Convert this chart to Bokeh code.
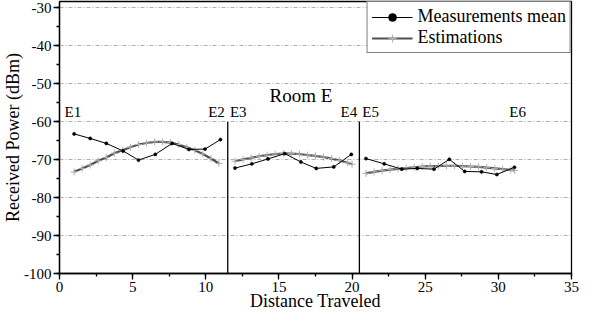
from bokeh.plotting import figure
from bokeh.models import (ColumnDataSource, Legend, LegendItem, SingleIntervalTicker, Range1d,
                          CustomJSTickFormatter)
from bokeh.core.properties import value
from bokeh.embed import file_html
from bokeh.resources import INLINE

# Measurements mean (three rooms segments)
meas1_x = [1.0, 2.1, 3.2, 4.35, 5.4, 6.55, 7.7, 8.85, 9.95, 11.0]
meas1_y = [-63.2, -64.4, -65.7, -67.7, -70.1, -68.6, -65.7, -67.3, -67.2, -64.7]
meas2_x = [12.0, 13.15, 14.25, 15.4, 16.5, 17.55, 18.75, 19.95]
meas2_y = [-72.2, -71.1, -69.8, -68.4, -70.6, -72.3, -71.9, -68.6]
meas3_x = [20.95, 22.2, 23.4, 24.45, 25.6, 26.65, 27.7, 28.85, 29.9, 31.1]
meas3_y = [-69.7, -71.1, -72.5, -72.3, -72.5, -69.9, -73.1, -73.2, -73.9, -72.0]

# Estimations
est1_x = [1.0, 1.55, 2.1, 2.65, 3.2, 3.75, 4.3, 4.85, 5.4, 5.95, 6.5, 7.05, 7.6, 8.15, 8.7, 9.25, 9.8, 10.35, 10.9]
est1_y = [-73.2, -72.3, -71.4, -70.3, -69.4, -68.3, -67.5, -66.7, -66.0, -65.6, -65.3, -65.3, -65.5, -66.0, -66.7, -67.5, -68.5, -69.7, -71.0]
est2_x = [12.0, 12.55, 13.1, 13.65, 14.2, 14.75, 15.3, 15.85, 16.4, 16.95, 17.5, 18.05, 18.6, 19.15, 19.7, 20.0]
est2_y = [-70.4, -69.9, -69.5, -69.1, -68.8, -68.5, -68.4, -68.4, -68.5, -68.8, -69.0, -69.3, -69.7, -70.2, -70.8, -71.2]
est3_x = [20.95, 21.5, 22.05, 22.6, 23.15, 23.7, 24.25, 24.8, 25.35, 25.9, 26.45, 27.0, 27.55, 28.1, 28.65, 29.2, 29.75, 30.3, 30.85, 31.1]
est3_y = [-73.6, -73.2, -72.9, -72.6, -72.4, -72.2, -72.0, -71.8, -71.7, -71.7, -71.6, -71.6, -71.7, -71.8, -71.9, -72.1, -72.3, -72.5, -72.7, -72.8]

# Room dividers
div_x = [11.5, 20.5]
div_y0 = [-60, -60]
div_y1 = [-100, -100]

# Point labels
lab_text = ["E1", "E2", "E3", "E4", "E5", "E6"]
lab_x = [0.35, 11.3, 11.65, 20.35, 20.7, 30.75]
lab_align = ["left", "right", "left", "right", "left", "left"]
lab_y = [-59.6] * 6

room_text = ["Room E"]
room_x = [16.5]
room_y = [-53.2]

FONT = "Liberation Serif"

p = figure(width=586, height=313, output_backend="svg", toolbar_location=None,
           x_range=Range1d(0, 35), y_range=Range1d(-100, -28.3),
           min_border_left=56, min_border_right=15, min_border_top=1, min_border_bottom=36)

p.background_fill_color = "white"
p.border_fill_color = "white"
p.outline_line_color = "black"
p.outline_line_width = 1.3

# grid
p.xgrid.grid_line_color = None
p.ygrid.grid_line_color = "#9a9a9a"
p.ygrid.grid_line_dash = "4 2 1 2"
p.ygrid.grid_line_width = 0.8
p.ygrid.ticker = SingleIntervalTicker(interval=10, num_minor_ticks=2)

# axes
p.xaxis.ticker = SingleIntervalTicker(interval=5, num_minor_ticks=2)
p.yaxis.ticker = SingleIntervalTicker(interval=10, num_minor_ticks=2)
fmt = CustomJSTickFormatter(code="return tick.toString();")
for ax in (p.xaxis[0], p.yaxis[0]):
    ax.formatter = fmt
    ax.axis_line_width = 1.3
    ax.axis_line_color = "black"
    ax.major_tick_in = 0
    ax.major_tick_out = 6
    ax.minor_tick_in = 0
    ax.minor_tick_out = 3
    ax.major_tick_line_width = 1.3
    ax.minor_tick_line_width = 1.3
    ax.major_tick_line_color = "black"
    ax.minor_tick_line_color = "black"
    ax.major_label_text_font = FONT
    ax.major_label_text_font_size = "15px"
    ax.major_label_text_color = "black"
    ax.axis_label_text_font = FONT
    ax.axis_label_text_font_size = "18px"
    ax.axis_label_text_font_style = "normal"
    ax.axis_label_text_color = "black"
p.xaxis.axis_label = "Distance Traveled"
p.yaxis.axis_label = "Received Power (dBm)"
p.xaxis.axis_label_standoff = -4
p.yaxis.axis_label_standoff = -2
p.xaxis.major_label_standoff = 2
p.yaxis.major_label_standoff = 2

# dividers
p.segment(x0=div_x, y0=div_y0, x1=div_x, y1=div_y1, line_color="black", line_width=1.3)

# estimations
est_renderers = []
for ex, ey in ((est1_x, est1_y), (est2_x, est2_y), (est3_x, est3_y)):
    r1 = p.line(ex, ey, line_color="#505050", line_width=2.2)
    r2 = p.scatter(ex, ey, marker="cross", size=7, line_color="#b0b0b0", line_width=1)
    est_renderers += [r1, r2]

# measurements
meas_renderers = []
for mx, my in ((meas1_x, meas1_y), (meas2_x, meas2_y), (meas3_x, meas3_y)):
    r1 = p.line(mx, my, line_color="black", line_width=1)
    r2 = p.scatter(mx, my, marker="circle", size=3.2, fill_color="black", line_color="black",
                   line_width=0.5)
    meas_renderers += [r1, r2]

# labels
src = ColumnDataSource(dict(x=lab_x, y=lab_y, t=lab_text, a=lab_align))
p.text(x="x", y="y", text="t", text_align="a", source=src, text_baseline="bottom",
       text_font=value(FONT), text_font_size="15px", text_color="black")
p.text(x=room_x, y=room_y, text=room_text, text_align="center", text_baseline="middle",
       text_font=value(FONT), text_font_size="19px", text_color="black")

legend = Legend(items=[
    LegendItem(label="Measurements mean", renderers=[meas_renderers[0], meas_renderers[1]]),
    LegendItem(label="Estimations", renderers=[est_renderers[0], est_renderers[1]]),
], location="top_right")
legend.margin = 0
legend.padding = 4
legend.spacing = 0
legend.glyph_width = 41
legend.glyph_height = 20
legend.label_height = 20
legend.label_standoff = 5
legend.label_text_font = FONT
legend.label_text_font_size = "18px"
legend.label_text_color = "black"
legend.border_line_color = "black"
legend.border_line_width = 1.3
legend.background_fill_alpha = 1
p.add_layout(legend)

open("out.html", "w").write(file_html(p, INLINE))
